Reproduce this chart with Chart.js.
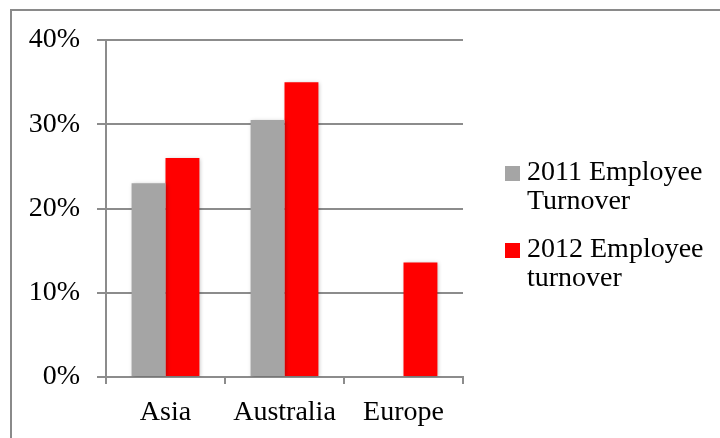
<!DOCTYPE html>
<html>
<head>
<meta charset="utf-8">
<script src="https://cdn.jsdelivr.net/npm/chart.js@4/dist/chart.umd.min.js"></script>
<style>
  html, body { margin: 0; padding: 0; background: #fff; }
  #wrap { width: 720px; height: 438px; position: relative; }
</style>
</head>
<body>
<div id="wrap"><canvas id="myChart" width="720" height="438"></canvas></div>
<script>
const regions = ['Asia', 'Australia', 'Europe'];
const turnover2011 = [23, 30.5, 0];
const turnover2012 = [26, 35, 13.6];
const seriesNames = [['2011 Employee', 'Turnover'], ['2012 Employee', 'turnover']];
const seriesColors = ['#a5a5a5', '#ff0000'];

const fontFamily = "'Liberation Serif', serif";
const fontSize = 28;

// frame around the chart (only top and left edges show in the window)
const framePlugin = {
    id: 'frame',
    beforeDraw(chart) {
        const c = chart.ctx;
        c.save();
        c.strokeStyle = '#8a8a8a';
        c.lineWidth = 2;
        c.strokeRect(11, 10, 740, 460);
        c.restore();
    }
};

// soft shadow behind the bars
const shadowPlugin = {
    id: 'barShadow',
    beforeDatasetsDraw(chart) {
        const c = chart.ctx;
        c.save();
        c.shadowColor = 'rgba(0,0,0,0.25)';
        c.shadowBlur = 4;
        c.shadowOffsetX = 1;
        c.shadowOffsetY = 1;
    },
    afterDatasetsDraw(chart) {
        chart.ctx.restore();
    }
};

// legend on the right with wrapped labels
const sideLegend = {
    id: 'sideLegend',
    afterDraw(chart) {
        const c = chart.ctx;
        c.save();
        c.font = fontSize + 'px ' + fontFamily;
        c.textBaseline = 'middle';
        const tops = [173, 250];
        chart.data.datasets.forEach((ds, i) => {
            const y = tops[i];
            c.fillStyle = ds.backgroundColor;
            c.fillRect(505, y - 7, 15, 15);
            c.fillStyle = '#000';
            seriesNames[i].forEach((line, j) => {
                c.fillText(line, 527, y + j * 29);
            });
        });
        c.restore();
    }
};

const ctx = document.getElementById('myChart');

const myChart = new Chart(ctx, {
    type: 'bar',
    data: {
        labels: regions,
        datasets: [
            {
                label: seriesNames[0].join(' '),
                data: turnover2011,
                backgroundColor: seriesColors[0],
                borderWidth: 0
            },
            {
                label: seriesNames[1].join(' '),
                data: turnover2012,
                backgroundColor: seriesColors[1],
                borderWidth: 0
            }
        ]
    },
    options: {
        responsive: false,
        animation: false,
        layout: {
            padding: { left: 0, top: 40, right: 257, bottom: 0 }
        },
        datasets: {
            bar: {
                barPercentage: 1,
                categoryPercentage: 0.57
            }
        },
        plugins: {
            legend: { display: false },
            tooltip: { enabled: false }
        },
        scales: {
            x: {
                afterFit: (scale) => { scale.height = 61; },
                grid: {
                    offset: true,
                    drawOnChartArea: false,
                    color: '#8c8c8c',
                    lineWidth: 2,
                    tickLength: 7
                },
                border: { color: '#8c8c8c', width: 2 },
                ticks: {
                    color: '#000',
                    padding: 12,
                    font: { family: fontFamily, size: fontSize }
                }
            },
            y: {
                min: 0,
                max: 40,
                afterFit: (scale) => { scale.width = 106; },
                grid: {
                    color: '#8c8c8c',
                    lineWidth: 2,
                    tickLength: 9
                },
                border: { color: '#8c8c8c', width: 2 },
                ticks: {
                    stepSize: 10,
                    color: '#000',
                    padding: 17,
                    font: { family: fontFamily, size: fontSize },
                    callback: (v) => v + '%'
                }
            }
        }
    },
    plugins: [framePlugin, shadowPlugin, sideLegend]
});
</script>
</body>
</html>
